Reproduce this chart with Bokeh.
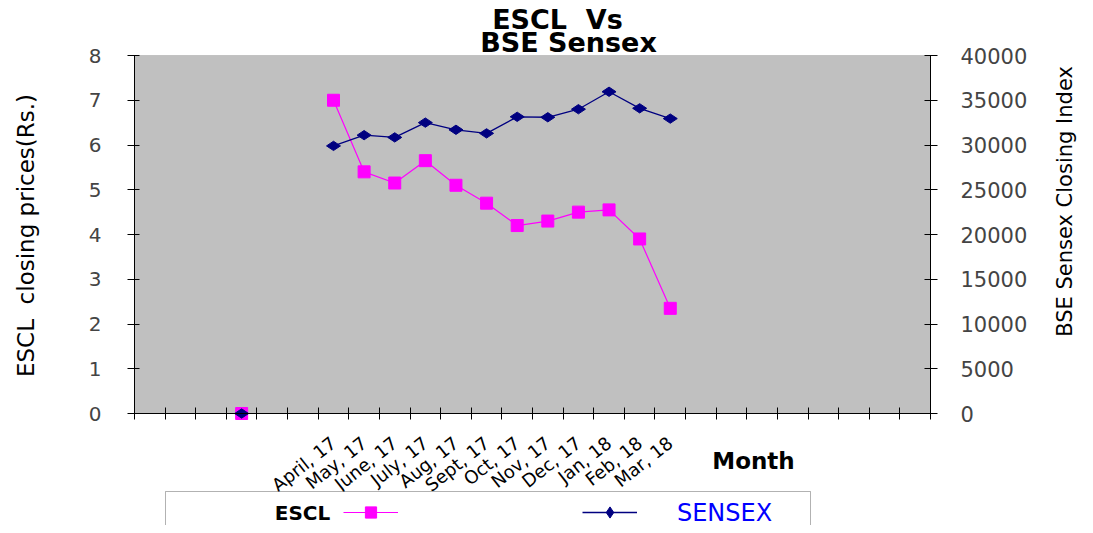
import math
import numpy as np
from bokeh.plotting import figure
from bokeh.models import (Range1d, LinearAxis, FixedTicker, Label, Legend, LegendItem,
                          BoxAnnotation)
from bokeh.embed import file_html
from bokeh.resources import INLINE

# ---------------- data ----------------
categories = ["", "", "", "", "", "",
              "April, 17", "May, 17", "June, 17", "July, 17", "Aug, 17", "Sept, 17",
              "Oct, 17", "Nov, 17", "Dec, 17", "Jan, 18", "Feb, 18", "Mar, 18",
              "", "", "", "", "", "", "", ""]
escl = [None, None, None, 0, None, None,
        7.0, 5.4, 5.15, 5.65, 5.1, 4.7, 4.2, 4.3, 4.5, 4.55, 3.9, 2.35,
        None, None, None, None, None, None, None, None]
sensex = [None, None, None, 0, None, None,
          29900, 31100, 30850, 32500, 31700, 31300, 33150, 33100, 34000, 35950, 34100, 32950,
          None, None, None, None, None, None, None, None]
escl_ticks = [0, 1, 2, 3, 4, 5, 6, 7, 8]
sensex_ticks = [0, 5000, 10000, 15000, 20000, 25000, 30000, 35000, 40000]

xs = np.arange(len(categories))
escl_y = np.array([np.nan if v is None else v for v in escl], dtype=float)
sensex_y = np.array([np.nan if v is None else v for v in sensex], dtype=float)

# ---------------- layout (canvas pixels) ----------------
W, H = 1077, 525
L, R, T, B = 134, 930, 55, 413          # grey plot area inside the canvas
n = len(categories)
ppx = (R - L) / n
ymax_escl = escl_ticks[-1]
ppy = (B - T) / ymax_escl
x_start = -0.5 - L / ppx
x_end = n - 0.5 + (W - R) / ppx
y_start = -(H - B) / ppy
y_end = ymax_escl + T / ppy
ratio = sensex_ticks[-1] / ymax_escl

FONT = "DejaVu Sans"

p = figure(width=W, height=H, output_backend="svg", toolbar_location=None,
           x_range=Range1d(x_start, x_end), y_range=Range1d(y_start, y_end),
           min_border=0, x_axis_location=None, y_axis_location=None)
p.title.visible = False
p.background_fill_color = "white"
p.border_fill_color = "white"
p.outline_line_color = None
p.xgrid.visible = False
p.ygrid.visible = False
p.extra_y_ranges = {"sensex": Range1d(y_start * ratio, y_end * ratio)}

# grey plot area
p.add_layout(BoxAnnotation(left=-0.5, right=n - 0.5, bottom=0, top=ymax_escl,
                           fill_color="#C0C0C0", fill_alpha=1,
                           line_color="#808080", line_width=1, level="image"))

# ---- axes ----
labeled = [i for i, c in enumerate(categories) if c]
xaxis = LinearAxis(fixed_location=0, bounds=(-0.5, n - 0.5),
                   ticker=FixedTicker(ticks=labeled,
                                      minor_ticks=[i - 0.5 for i in range(n + 1)]),
                   major_label_overrides={i: categories[i] for i in labeled})
xaxis.major_tick_in = 0
xaxis.major_tick_out = 0
xaxis.minor_tick_in = 6
xaxis.minor_tick_out = 6
xaxis.minor_tick_line_color = "black"
xaxis.axis_line_color = "black"
xaxis.major_label_orientation = 0.67
xaxis.major_label_standoff = 21
xaxis.major_label_text_font = FONT
xaxis.major_label_text_font_size = "18px"
xaxis.major_label_text_color = "black"
p.add_layout(xaxis, "below")

yaxis = LinearAxis(fixed_location=-0.5, bounds=(0, ymax_escl),
                   ticker=FixedTicker(ticks=escl_ticks))
yaxis.major_tick_in = 5
yaxis.major_tick_out = 7
yaxis.minor_tick_line_color = None
yaxis.axis_line_color = "black"
yaxis.major_label_standoff = 26
yaxis.major_label_text_font = FONT
yaxis.major_label_text_font_size = "20px"
yaxis.major_label_text_color = "#444444"
p.add_layout(yaxis, "left")

raxis = LinearAxis(y_range_name="sensex", fixed_location=n - 0.5,
                   bounds=(0, sensex_ticks[-1]), ticker=FixedTicker(ticks=sensex_ticks))
raxis.major_tick_in = 6
raxis.major_tick_out = 7
raxis.minor_tick_line_color = None
raxis.axis_line_color = "black"
raxis.major_label_standoff = 23
raxis.major_label_text_font = FONT
raxis.major_label_text_font_size = "21px"
raxis.major_label_text_color = "#444444"
p.add_layout(raxis, "right")

# ---- series ----
el = p.line(xs, escl_y, line_color="#FF00FF", line_width=1.2)
em = p.scatter(xs, escl_y, marker="square", size=12, fill_color="#FF00FF", line_color="#FF00FF")
sl = p.line(xs, sensex_y, line_color="#000080", line_width=1.3, y_range_name="sensex")
sm = p.scatter(xs, sensex_y, marker="diamond", size=14, angle=math.pi / 2,
               fill_color="#000080", line_color="#000080", y_range_name="sensex")


# ---- texts (screen px from the canvas bottom-left) ----
def lab(text, x, y, size, bold=False, color="black", angle=0.0):
    p.add_layout(Label(x=x, y=y, x_units="screen", y_units="screen", text=text,
                       text_font=FONT, text_font_size=size,
                       text_font_style="bold" if bold else "normal",
                       text_color=color, text_align="center", text_baseline="middle",
                       angle=angle))


lab("ESCL\u00a0 Vs", 557, 506, "27px", bold=True)
lab("BSE Sensex", 568, 483, "27px", bold=True)
lab("ESCL\u00a0 closing prices(Rs.)", 25, 290, "23px", angle=math.pi / 2)
lab("BSE Sensex Closing Index", 1064, 324, "21px", angle=math.pi / 2)
lab("Month", 753, 65, "23px", bold=True)

# ---- legend ----
p.add_layout(BoxAnnotation(left=165, right=810, top=34, bottom=-10,
                           left_units="screen", right_units="screen",
                           top_units="screen", bottom_units="screen",
                           fill_color="white", fill_alpha=1, line_color="black", line_width=1))
lab("ESCL", 302, 13, "20px", bold=True)
lab("SENSEX", 724, 13, "24px", color="#0000FF")
for rends, x0 in (([el, em], 343), ([sl, sm], 582)):
    lg = Legend(items=[LegendItem(label=" ", renderers=rends)], location=(x0, -1),
                glyph_width=55, glyph_height=28, padding=0, margin=0, label_standoff=0,
                border_line_alpha=0, background_fill_alpha=0, label_text_font_size="1px")
    p.add_layout(lg)

open("out.html", "w").write(file_html(p, INLINE))
